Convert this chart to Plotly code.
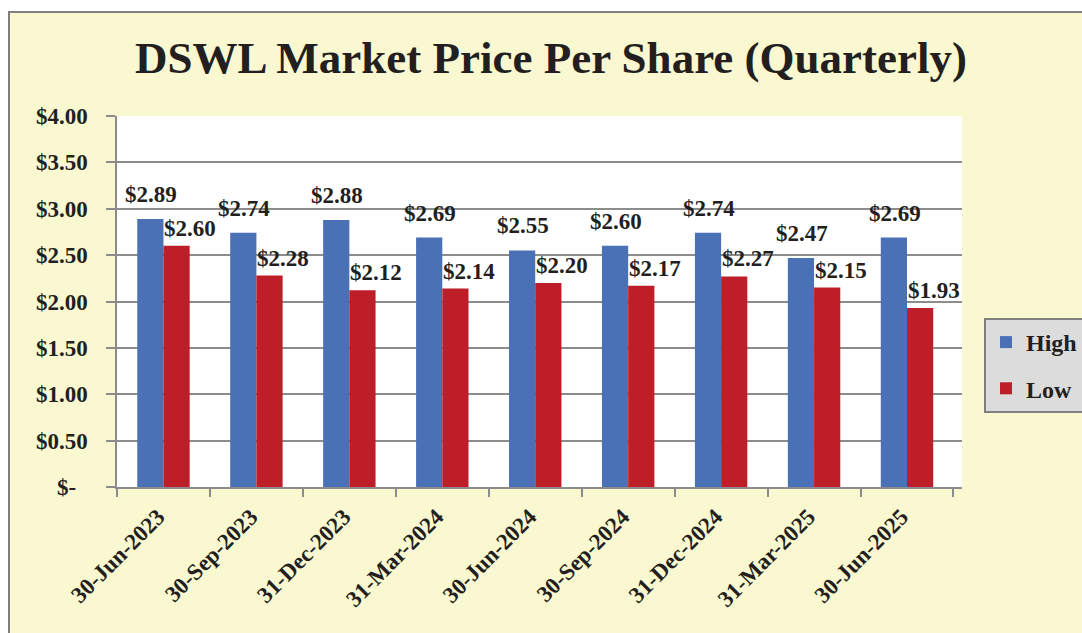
import plotly.graph_objects as go

categories = ["30-Jun-2023", "30-Sep-2023", "31-Dec-2023", "31-Mar-2024", "30-Jun-2024",
              "30-Sep-2024", "31-Dec-2024", "31-Mar-2025", "30-Jun-2025"]
high = [2.89, 2.74, 2.88, 2.69, 2.55, 2.60, 2.74, 2.47, 2.69]
low = [2.60, 2.28, 2.12, 2.14, 2.20, 2.17, 2.27, 2.15, 1.93]
ytickvals = [0, 0.5, 1.0, 1.5, 2.0, 2.5, 3.0, 3.5, 4.0]
yticktext = ["$-\u2002", "$0.50", "$1.00", "$1.50", "$2.00", "$2.50", "$3.00", "$3.50", "$4.00"]

W, H = 1082, 633
# plot area in page pixels: x 117..962, y 116..487
L, R, T, B = 117, W - 962, 116, H - 487
FONT = "Liberation Serif, Times New Roman, serif"
TXT = "#231F20"
GRID = "#8C8C8C"
BLUE = "#4A70B6"
RED = "#BE1E28"
BG = "#FAF8D0"

pw = W - L - R
ph = H - T - B
def px_x(p):
    return (p - L) / pw
def px_y(p):
    return (H - B - p) / ph

fig = go.Figure()
fig.add_trace(go.Bar(x=categories, y=high, name="High", marker=dict(color=BLUE, line=dict(width=0)),
                     legendgroup="h"))
fig.add_trace(go.Bar(x=categories, y=low, name="Low", marker=dict(color=RED, line=dict(width=0)),
                     legendgroup="l"))

annotations = []
for c, v in zip(categories, high):
    annotations.append(dict(x=c, y=v, xref="x", yref="y", text=f"${v:.2f}", showarrow=False,
                            xanchor="center", yanchor="bottom", xshift=-12, yshift=10,
                            font=dict(family=FONT, size=23, color=TXT, weight="bold")))
for c, v in zip(categories, low):
    annotations.append(dict(x=c, y=v, xref="x", yref="y", text=f"${v:.2f}", showarrow=False,
                            xanchor="left", yanchor="bottom", xshift=-1, yshift=3,
                            font=dict(family=FONT, size=23, color=TXT, weight="bold")))

fig.update_layout(
    width=W, height=H,
    margin=dict(l=L, r=R, t=T, b=B, autoexpand=False),
    paper_bgcolor=BG,
    plot_bgcolor="white",
    barmode="group",
    bargap=0.436,
    bargroupgap=0,
    title=dict(text="<b>DSWL Market Price Per Share (Quarterly)</b>",
               x=551 / W, xanchor="center", xref="container",
               y=1 - 57 / H, yanchor="middle", yref="container",
               font=dict(family=FONT, size=45, color=TXT)),
    showlegend=True,
    legend=dict(x=px_x(984), y=px_y(318), xanchor="left", yanchor="top",
                bgcolor="#DCDCDC", bordercolor="#7F7F7F", borderwidth=2,
                font=dict(family=FONT, size=24, color=TXT, weight="bold"),
                traceorder="grouped", tracegroupgap=12, itemwidth=30),
    annotations=annotations,
    shapes=[
        dict(type="rect", xref="paper", yref="paper", x0=px_x(-5), x1=px_x(8), y0=px_y(700), y1=px_y(-5),
             fillcolor="white", line=dict(width=0), layer="above"),
        dict(type="rect", xref="paper", yref="paper", x0=px_x(-5), x1=px_x(1100), y0=px_y(12), y1=px_y(-5),
             fillcolor="white", line=dict(width=0), layer="above"),
        dict(type="line", xref="paper", yref="paper", x0=px_x(8), x1=px_x(1100), y0=px_y(12), y1=px_y(12),
             line=dict(color="#7F7F7F", width=2), layer="above"),
        dict(type="line", xref="paper", yref="paper", x0=px_x(9), x1=px_x(9), y0=px_y(12), y1=px_y(700),
             line=dict(color="#7F7F7F", width=2), layer="above"),
    ],
)

fig.update_xaxes(
    type="category",
    tickvals=categories, ticktext=[c + "\u2004" for c in categories],
    showgrid=False,
    showline=True, linecolor=GRID, linewidth=1.5,
    ticks="outside", tickson="boundaries", ticklen=8, tickcolor=GRID, tickwidth=1.5,
    tickangle=-45,
    tickfont=dict(family=FONT, size=23, color=TXT, weight="bold"),
)
fig.update_yaxes(
    range=[0, 4],
    tickvals=ytickvals, ticktext=yticktext,
    showgrid=True, gridcolor=GRID, gridwidth=1.5,
    zeroline=False,
    showline=True, linecolor=GRID, linewidth=1.5,
    ticks="outside", ticklen=9, tickcolor=GRID, tickwidth=1.5,
    ticklabelstandoff=14,
    tickfont=dict(family=FONT, size=23, color=TXT, weight="bold"),
)

fig.write_html(
    "out.html",
    config={"displayModeBar": False},
    post_script="document.body.style.margin='0';document.body.style.overflow='hidden';",
)
